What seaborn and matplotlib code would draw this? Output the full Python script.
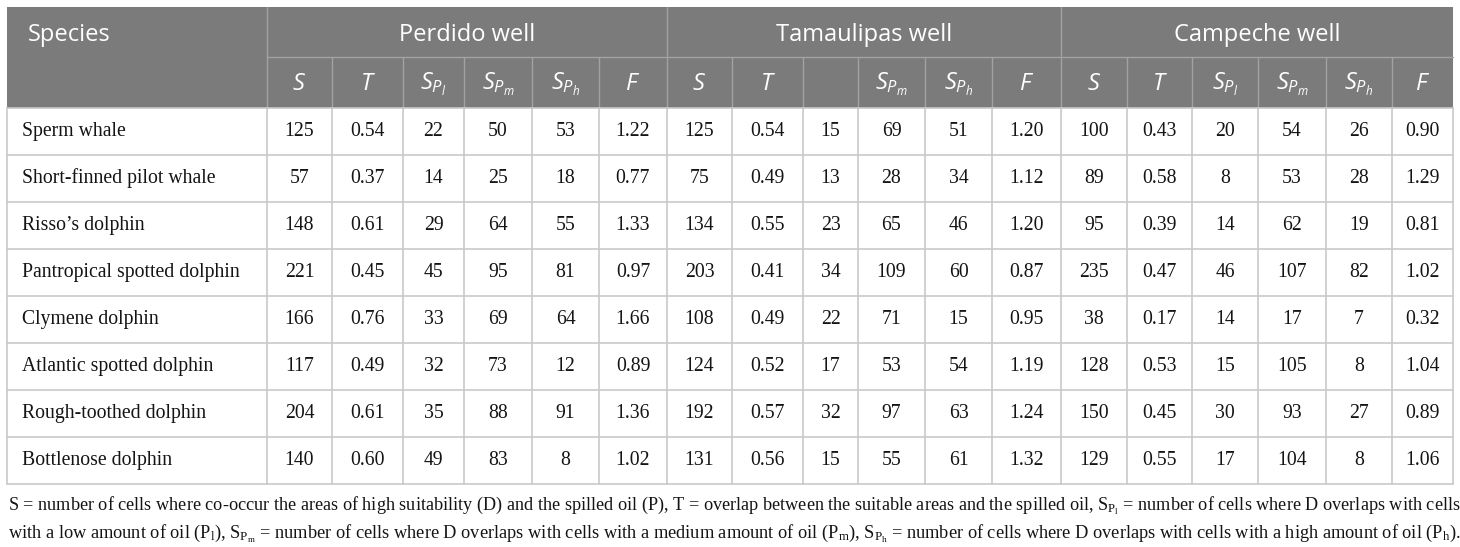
import numpy as np
import pandas as pd
import seaborn as sns
import matplotlib.pyplot as plt
from matplotlib.patches import Rectangle

# --- données du tableau ---
species = ['Sperm whale', 'Short-finned pilot whale', "Risso\u2019s dolphin",
           'Pantropical spotted dolphin', 'Clymene dolphin', 'Atlantic spotted dolphin',
           'Rough-toothed dolphin', 'Bottlenose dolphin']
wells = ['Perdido well', 'Tamaulipas well', 'Campeche well']

perdido = [[125, '0.54', 22, 50, 53, '1.22'],
           [57, '0.37', 14, 25, 18, '0.77'],
           [148, '0.61', 29, 64, 55, '1.33'],
           [221, '0.45', 45, 95, 81, '0.97'],
           [166, '0.76', 33, 69, 64, '1.66'],
           [117, '0.49', 32, 73, 12, '0.89'],
           [204, '0.61', 35, 88, 91, '1.36'],
           [140, '0.60', 49, 83, 8, '1.02']]
tamaulipas = [[125, '0.54', 15, 69, 51, '1.20'],
              [75, '0.49', 13, 28, 34, '1.12'],
              [134, '0.55', 23, 65, 46, '1.20'],
              [203, '0.41', 34, 109, 60, '0.87'],
              [108, '0.49', 22, 71, 15, '0.95'],
              [124, '0.52', 17, 53, 54, '1.19'],
              [192, '0.57', 32, 97, 63, '1.24'],
              [131, '0.56', 15, 55, 61, '1.32']]
campeche = [[100, '0.43', 20, 54, 26, '0.90'],
            [89, '0.58', 8, 53, 28, '1.29'],
            [95, '0.39', 14, 62, 19, '0.81'],
            [235, '0.47', 46, 107, 82, '1.02'],
            [38, '0.17', 14, 17, 7, '0.32'],
            [128, '0.53', 15, 105, 8, '1.04'],
            [150, '0.45', 30, 93, 27, '0.89'],
            [129, '0.55', 17, 104, 8, '1.06']]

sub_cols = [r'$S$', r'$T$', r'$S_{P_l}$', r'$S_{P_m}$', r'$S_{P_h}$', r'$F$']
sub_cols_tam = [r'$S$', r'$T$', '', r'$S_{P_m}$', r'$S_{P_h}$', r'$F$']

note1 = (r"S = number of cells where co-occur the areas of high suitability (D) and the spilled oil (P), "
         r"T = overlap between the suitable areas and the spilled oil, $\mathrm{S_{P_l}}$ = number of cells "
         r"where D overlaps with cells")
note2 = (r"with a low amount of oil ($\mathrm{P_l}$), $\mathrm{S_{P_m}}$ = number of cells where D overlaps "
         r"with cells with a medium amount of oil ($\mathrm{P_m}$), $\mathrm{S_{P_h}}$ = number of cells where "
         r"D overlaps with cells with a high amount of oil ($\mathrm{P_h}$).")

df = pd.concat([pd.DataFrame(perdido), pd.DataFrame(tamaulipas), pd.DataFrame(campeche)], axis=1)
df.index = species

# --- mise en page (pixels) ---
x_edges = [7, 267, 332, 403, 464, 532, 599, 667, 732, 803, 858, 925, 992,
           1061, 1127, 1192, 1258, 1326, 1392, 1453]
y_top, y_h1, y_h2 = 7, 57, 108
row_h = 47.0

sns.set_theme(style='white')
plt.rcParams['mathtext.fontset'] = 'custom'
plt.rcParams['mathtext.it'] = 'Open Sans:italic'
plt.rcParams['mathtext.rm'] = 'Liberation Serif'

head_gray = '#7b7b7b'
head_line = '#a2a2a2'
body_line = '#c9c9c9'
head_font = ['Open Sans', 'DejaVu Sans']
body_font = ['Liberation Serif', 'DejaVu Serif']

fig = plt.figure(figsize=(14.6, 5.47), dpi=100)
ax = fig.add_axes([0, 0, 1, 1])
ax.set_xlim(0, 1460)
ax.set_ylim(547, 0)
ax.axis('off')

n_rows = len(species)
y_bot = y_h2 + n_rows * row_h

# en-tête gris
ax.add_patch(Rectangle((x_edges[0], y_top), x_edges[-1] - x_edges[0], y_h2 - y_top,
                       facecolor=head_gray, edgecolor='none'))
ax.plot([x_edges[1], x_edges[-1]], [y_h1, y_h1], color=head_line, lw=1)
for i, xe in enumerate(x_edges[1:-1], start=1):
    if (i - 1) % 6 == 0:
        ax.plot([xe, xe], [y_top, y_h2], color=head_line, lw=1)
    else:
        ax.plot([xe, xe], [y_h1, y_h2], color=head_line, lw=1)

ax.text(28, (y_top + y_h1) / 2 + 3, 'Species', color='white', fontsize=17,
        family=head_font, ha='left', va='center')
for g, well in enumerate(wells):
    x0 = x_edges[1 + 6 * g]
    x1 = x_edges[7 + 6 * g]
    ax.text((x0 + x1) / 2, (y_top + y_h1) / 2 + 3, well, color='white', fontsize=17,
            family=head_font, ha='center', va='center')
    labels = sub_cols_tam if g == 1 else sub_cols
    for k, lab in enumerate(labels):
        xa = x_edges[1 + 6 * g + k]
        xb = x_edges[2 + 6 * g + k]
        if lab:
            ax.text((xa + xb) / 2, (y_h1 + y_h2) / 2 + 2, lab, color='white', fontsize=17,
                    family=head_font, ha='center', va='center')

# corps du tableau
for r in range(n_rows + 1):
    yy = y_h2 + r * row_h
    ax.plot([x_edges[0], x_edges[-1]], [yy, yy], color=body_line, lw=1.2)
for xe in x_edges:
    ax.plot([xe, xe], [y_h2, y_bot], color=body_line, lw=1.2)

for r, name in enumerate(species):
    yc = y_h2 + (r + 0.5) * row_h
    ax.text(22, yc, name, fontsize=14.2, family=body_font, color='#141414',
            ha='left', va='center')
    for c in range(df.shape[1]):
        val = df.iloc[r, c]
        xc = (x_edges[c + 1] + x_edges[c + 2]) / 2
        ax.text(xc, yc, str(val), fontsize=14.2, family=body_font, color='#141414',
                ha='center', va='center')

# note de bas de tableau, ajustée à la largeur du tableau
t1 = ax.text(8, 506, note1, fontsize=13, family=body_font, color='#141414', ha='left', va='center')
t2 = ax.text(8, 534, note2, fontsize=13, family=body_font, color='#141414', ha='left', va='center')
fig.canvas.draw()
rend = fig.canvas.get_renderer()
target = 1445.0
for t in (t1, t2):
    w = t.get_window_extent(renderer=rend).width
    t.set_fontsize(13 * target / w)

fig.savefig('out.png', dpi=100, facecolor='white')
